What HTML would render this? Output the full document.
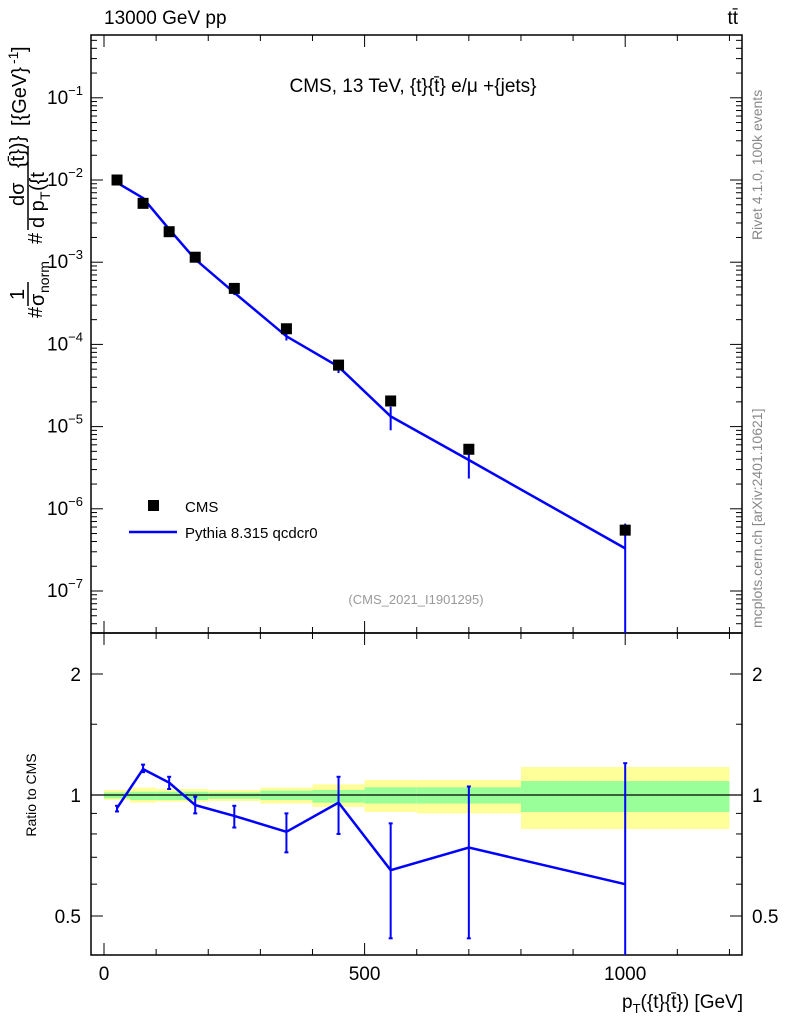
<!DOCTYPE html>
<html><head><meta charset="utf-8"><style>
body{margin:0;background:#fff;font-family:"Liberation Sans",sans-serif}
svg text{font-family:"Liberation Sans","DejaVu Sans",sans-serif}
</style></head><body>
<svg id="c" width="786" height="1024" xmlns="http://www.w3.org/2000/svg">
<text x="104" y="24" font-size="19">13000 GeV pp</text>
<text x="738" y="24" font-size="19" text-anchor="end">tt̄</text>
<text x="413" y="92" font-size="19" text-anchor="middle">CMS, 13 TeV, {t}{t̄} e/μ +{jets}</text>
<text x="416" y="604" font-size="13" fill="#999" text-anchor="middle">(CMS_2021_I1901295)</text>
<text transform="translate(762,240) rotate(-90)" font-size="14" fill="#888">Rivet 4.1.0,  100k events</text>
<text transform="translate(762,628) rotate(-90)" font-size="14" fill="#888">mcplots.cern.ch [arXiv:2401.10621]</text>
<g transform="translate(0,318) rotate(-90)" font-size="20">
<text x="0" y="42">#</text>
<text x="18" y="24">1</text>
<line x1="12" y1="28" x2="36" y2="28" stroke="#000" stroke-width="1.5"/>
<text x="12" y="44">σ</text><text x="25" y="49" font-size="14">norm</text>
<text x="74" y="42">#</text>
<text x="112" y="24">dσ</text>
<line x1="88" y1="28" x2="172" y2="28" stroke="#000" stroke-width="1.5"/>
<text x="90" y="44">d p</text><text x="118" y="50" font-size="14">T</text><text x="127" y="44">({t</text>
<text x="150" y="24">{t̄})}</text>
<text x="192" y="26">[{GeV}</text><text x="254" y="18" font-size="14">-1</text><text x="266" y="26">]</text>
</g>
<text transform="translate(36,795) rotate(-90)" font-size="14" text-anchor="middle">Ratio to CMS</text>
<text x="743" y="1008" font-size="19" text-anchor="end">p<tspan font-size="13" dy="5">T</tspan><tspan dy="-5">({t}{t̄}) [GeV]</tspan></text>
<g id="main"></g><g id="ratio"></g>
<g>
<rect x="148" y="500" width="11" height="11" fill="#000"/>
<text x="185" y="512" font-size="15">CMS</text>
<line x1="129" y1="532" x2="177" y2="532" stroke="#00f" stroke-width="2.5"/>
<text x="185" y="538" font-size="15">Pythia 8.315 qcdcr0</text>
</g>
</svg>
<script>
const xCenters=[25,75,125,175,250,350,450,550,700,1000];
const binEdges=[0,50,100,150,200,300,400,500,600,800,1200];
const dataVals=[1.0e-2,5.2e-3,2.35e-3,1.15e-3,4.8e-4,1.55e-4,5.6e-5,2.05e-5,5.3e-6,5.5e-7];
const ratioMC=[0.928,1.16,1.073,0.944,0.887,0.81,0.957,0.65,0.74,0.60];
const ratioLo=[0.91,1.14,1.035,0.90,0.83,0.72,0.80,0.44,0.44,0.01];
const ratioHi=[0.94,1.19,1.11,0.99,0.94,0.90,1.11,0.85,1.05,1.20];
const yelLo=[0.972,0.957,0.962,0.962,0.966,0.952,0.934,0.907,0.90,0.823];
const yelHi=[1.029,1.043,1.035,1.035,1.029,1.043,1.063,1.09,1.09,1.174];
const grnLo=[0.981,0.972,0.972,0.972,0.979,0.972,0.957,0.952,0.952,0.907];
const grnHi=[1.015,1.019,1.019,1.019,1.015,1.025,1.029,1.045,1.045,1.083];
const yTicks=[-7,-6,-5,-4,-3,-2,-1];
const xTicks=[0,500,1000];
const rTicks=[0.5,1,2];
const NS="http://www.w3.org/2000/svg";
const L=91,R=742,T=35,MB=633,RB=955;
const X=v=>104+(v)*0.5212;
const Y=v=>180-(Math.log10(v)+2)*82.2;
const RY=v=>795-Math.log2(v)*121;
function mk(p,t,a){const e=document.createElementNS(NS,t);for(const k in a)e.setAttribute(k,a[k]);p.appendChild(e);return e;}
const main=document.getElementById('main'),ratio=document.getElementById('ratio');
for(let i=0;i<yelLo.length;i++){
 const x1=X(binEdges[i]),x2=X(binEdges[i+1]);
 let r=mk(ratio,'rect',{x:x1,y:RY(yelHi[i]),width:x2-x1,height:RY(yelLo[i])-RY(yelHi[i]),fill:'#ffff99'});
 
 
 r=mk(ratio,'rect',{x:x1,y:RY(grnHi[i]),width:x2-x1,height:RY(grnLo[i])-RY(grnHi[i]),fill:'#99ff99'});
 
 
}
mk(ratio,'line',{x1:L,x2:R,y1:RY(1),y2:RY(1),stroke:'#000','stroke-width':1.2});
for(const [t,b] of [[T,MB],[MB,RB]]){const f=mk(main,'rect',{x:L,y:t,width:R-L,height:b-t,fill:'none',stroke:'#000','stroke-width':1.5});
 
 }
for(let d=-8;d<=0;d++)for(let m=1;m<10;m++){const v=m*Math.pow(10,d);const y=Y(v);if(y<T||y>MB)continue;const len=m==1?12:6;
 mk(main,'line',{x1:L,x2:L+len,y1:y,y2:y,stroke:'#000'});mk(main,'line',{x1:R,x2:R-len,y1:y,y2:y,stroke:'#000'});}
yTicks.forEach(d=>{const t=mk(main,'text',{x:L-8,y:Y(Math.pow(10,d))+6,'font-size':19,'text-anchor':'end'});
 
 
 t.innerHTML='10<tspan font-size="13" dy="-9">'+(d<0?'−':'')+Math.abs(d)+'</tspan>';});
for(let v=0;v<=1200;v+=100){const x=X(v);const len=v%500==0?12:6;
 for(const [a,b] of [[T,MB],[MB,RB]]){mk(main,'line',{x1:x,x2:x,y1:b,y2:b-len,stroke:'#000'});mk(main,'line',{x1:x,x2:x,y1:a,y2:a+len,stroke:'#000'});}}
xTicks.forEach(v=>{const t=mk(main,'text',{x:X(v),y:980,'font-size':19,'text-anchor':'middle'});t.textContent=v;
 
 });
[0.4,0.5,0.6,0.7,0.8,0.9,1,1.5,2].forEach(v=>{const y=RY(v);if(y<MB||y>RB)return;const len=[0.5,1,2].includes(v)?12:6;
 mk(ratio,'line',{x1:L,x2:L+len,y1:y,y2:y,stroke:'#000'});mk(ratio,'line',{x1:R,x2:R-len,y1:y,y2:y,stroke:'#000'});});
rTicks.forEach(v=>{for(const [x,a] of [[L-10,'end'],[R+10,'start']]){const t=mk(ratio,'text',{x:x,y:RY(v)+7,'font-size':19,'text-anchor':a});t.textContent=v;
 
 }});
const mc=dataVals.map((d,i)=>d*ratioMC[i]);
const cl=v=>Math.min(MB,Math.max(T,v));
let p=mk(main,'polyline',{points:xCenters.map((x,i)=>X(x)+','+Y(mc[i])).join(' '),fill:'none',stroke:'#00f','stroke-width':2.5});


xCenters.forEach((x,i)=>{const y1=cl(Y(dataVals[i]*ratioHi[i])),y2=cl(Y(dataVals[i]*ratioLo[i]));
 const e=mk(main,'line',{x1:X(x),x2:X(x),y1:y1,y2:y2,stroke:'#00f','stroke-width':2});
 
 
 const r=mk(main,'rect',{x:X(x)-5.5,y:Y(dataVals[i])-5.5,width:11,height:11,fill:'#000'});
 
 });
p=mk(ratio,'polyline',{points:xCenters.map((x,i)=>X(x)+','+RY(ratioMC[i])).join(' '),fill:'none',stroke:'#00f','stroke-width':2.5});


const rc=v=>Math.min(RB,Math.max(MB,v));
xCenters.forEach((x,i)=>{const y1=rc(RY(ratioHi[i])),y2=rc(RY(ratioLo[i]));
 const e=mk(ratio,'line',{x1:X(x),x2:X(x),y1:y1,y2:y2,stroke:'#00f','stroke-width':2});
 
 
 mk(ratio,'line',{x1:X(x)-2,x2:X(x)+2,y1:y1,y2:y1,stroke:'#00f','stroke-width':2});
 if(y2<RB)mk(ratio,'line',{x1:X(x)-2,x2:X(x)+2,y1:y2,y2:y2,stroke:'#00f','stroke-width':2});});
</script>
</body></html>
